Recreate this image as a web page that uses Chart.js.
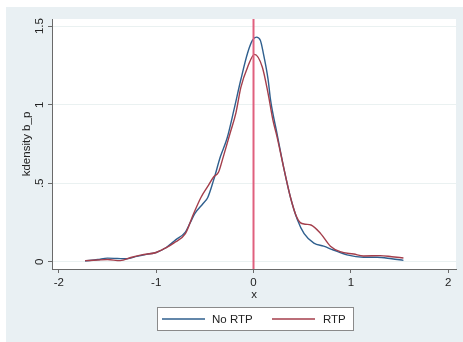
<!DOCTYPE html>
<html>
<head>
<meta charset="utf-8">
<style>
html,body{margin:0;padding:0;background:#ffffff;}
#wrap{position:relative;width:463px;height:342px;}
canvas{display:block;}
</style>
<script src="https://cdn.jsdelivr.net/npm/chart.js@4/dist/chart.umd.min.js"></script>
</head>
<body>
<div id="wrap"><canvas id="c" width="463" height="342"></canvas></div>
<script>
// ---- data ----
const seriesLabels = ["No RTP", "RTP"];
const noRtpX = [-1.73,-1.6,-1.5,-1.4,-1.3,-1.2,-1.1,-1.0,-0.9,-0.8,-0.7,-0.65,-0.6,-0.52,-0.47,-0.41,-0.34,-0.27,-0.2,-0.13,-0.06,-0.01,0.03,0.07,0.1,0.15,0.175,0.24,0.31,0.38,0.45,0.52,0.62,0.72,0.82,0.96,1.13,1.27,1.42,1.54];
const noRtpY = [0.006,0.015,0.024,0.022,0.02,0.035,0.048,0.06,0.09,0.14,0.19,0.25,0.31,0.37,0.41,0.52,0.67,0.79,0.97,1.16,1.33,1.41,1.43,1.41,1.33,1.16,1.03,0.82,0.6,0.41,0.27,0.18,0.12,0.1,0.076,0.045,0.03,0.03,0.02,0.01];
const rtpX = [-1.73,-1.6,-1.5,-1.37,-1.25,-1.15,-1.0,-0.9,-0.82,-0.7,-0.62,-0.54,-0.47,-0.41,-0.36,-0.31,-0.24,-0.18,-0.13,-0.06,0.01,0.09,0.15,0.2,0.24,0.31,0.38,0.44,0.48,0.53,0.59,0.69,0.79,0.89,1.03,1.13,1.3,1.42,1.54];
const rtpY = [0.008,0.012,0.015,0.008,0.03,0.045,0.06,0.09,0.12,0.18,0.3,0.41,0.48,0.54,0.57,0.67,0.82,0.95,1.11,1.24,1.32,1.24,1.07,0.9,0.8,0.6,0.41,0.29,0.25,0.24,0.235,0.18,0.1,0.065,0.05,0.038,0.04,0.033,0.025];
const refLineX = 0;
const xTickValues = [-2,-1,0,1,2];
const yTickValues = [0,0.5,1,1.5];
const yTickLabels = ["0",".5","1","1.5"];
const xTitle = "x";
const yTitle = "kdensity b_p";
const xRange = [-2.07, 2.08];
const yRange = [-0.045, 1.545];

// ---- styles ----
const FONT = '"Liberation Sans", Arial, sans-serif';
const BLUE = '#2f5f8e';
const RED = '#a43e4b';
const PINK = '#e0607e';
const TXT = '#222222';

function pts(xs, ys){ return xs.map((x,i)=>({x:x, y:ys[i]})); }

const bgPlugin = {
  id:'bg',
  beforeDraw(chart){
    const ctx = chart.ctx, a = chart.chartArea;
    ctx.save();
    ctx.fillStyle = '#ffffff';
    ctx.fillRect(0,0,chart.width,chart.height);
    ctx.fillStyle = '#e9f0f3';
    ctx.fillRect(6,7,chart.width-6,chart.height-7);
    ctx.fillStyle = '#ffffff';
    ctx.fillRect(a.left, a.top, a.right-a.left, a.bottom-a.top);
    ctx.restore();
  }
};

const legendPlugin = {
  id:'boxLegend',
  afterDraw(chart){
    const ctx = chart.ctx;
    const bx = 157.5, by = 307.5, bw = 196, bh = 23;
    ctx.save();
    ctx.fillStyle = '#ffffff';
    ctx.fillRect(bx, by, bw, bh);
    ctx.strokeStyle = '#8a8a8a';
    ctx.lineWidth = 1;
    ctx.strokeRect(bx, by, bw, bh);
    const cy = by + bh/2;
    const items = [
      {ds:0, x0:162, x1:205, tx:212},
      {ds:1, x0:272, x1:315, tx:323}
    ];
    ctx.font = '11.5px ' + FONT;
    ctx.textBaseline = 'middle';
    ctx.textAlign = 'left';
    items.forEach(it=>{
      const ds = chart.data.datasets[it.ds];
      ctx.strokeStyle = ds.borderColor;
      ctx.lineWidth = 1.3;
      ctx.beginPath();
      ctx.moveTo(it.x0, cy); ctx.lineTo(it.x1, cy);
      ctx.stroke();
      ctx.fillStyle = TXT;
      ctx.fillText(ds.label, it.tx, cy+0.5);
    });
    ctx.restore();
  }
};

new Chart(document.getElementById('c'), {
  type:'line',
  data:{
    datasets:[
      {label:seriesLabels[0], data:pts(noRtpX,noRtpY), borderColor:BLUE, borderWidth:1.4, pointRadius:0, cubicInterpolationMode:'monotone', fill:false, order:2},
      {label:seriesLabels[1], data:pts(rtpX,rtpY), borderColor:RED, borderWidth:1.4, pointRadius:0, cubicInterpolationMode:'monotone', fill:false, order:1},
      {label:'ref', data:[{x:refLineX,y:yRange[0]},{x:refLineX,y:yRange[1]}], borderColor:PINK, borderWidth:2, pointRadius:0, fill:false, order:0}
    ]
  },
  options:{
    responsive:false,
    animation:false,
    events:[],
    layout:{padding:{left:0, right:7, top:19, bottom:0}},
    plugins:{legend:{display:false}, tooltip:{enabled:false}},
    scales:{
      x:{
        type:'linear',
        min:xRange[0], max:xRange[1],
        afterBuildTicks(s){ s.ticks = xTickValues.map(v=>({value:v})); },
        afterFit(s){ s.height = 73; },
        border:{display:true, color:'#6a6a6a', width:1},
        grid:{display:true, drawOnChartArea:false, drawTicks:true, tickLength:4, tickColor:'#6a6a6a'},
        ticks:{color:TXT, font:{family:FONT, size:11.5}, padding:3, maxRotation:0, callback:(v)=>String(v)},
        title:{display:true, text:xTitle, color:TXT, font:{family:FONT, size:11.5}, padding:{top:0,bottom:40}}
      },
      y:{
        type:'linear',
        min:yRange[0], max:yRange[1],
        afterBuildTicks(s){ s.ticks = yTickValues.map(v=>({value:v})); },
        afterFit(s){ s.width = 52; },
        border:{display:true, color:'#6a6a6a', width:1},
        grid:{display:true, drawOnChartArea:true, color:'#eaf1f1', lineWidth:1, drawTicks:true, tickLength:4, tickColor:'#6a6a6a'},
        ticks:{color:TXT, font:{family:FONT, size:11.5}, padding:0, minRotation:90, maxRotation:90, crossAlign:'center',
          callback:(v)=>{ const i = yTickValues.indexOf(v); return i>=0 ? yTickLabels[i] : ''; }},
        title:{display:true, text:yTitle, color:TXT, font:{family:FONT, size:11.5}, padding:{top:20,bottom:0}}
      }
    }
  },
  plugins:[bgPlugin, legendPlugin]
});
</script>
</body>
</html>
